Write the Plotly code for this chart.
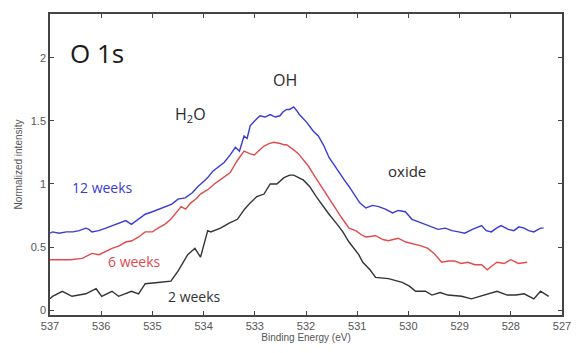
import plotly.graph_objects as go

# 12 weeks (blue)
e12 = [537.0, 536.95, 536.82, 536.68, 536.55, 536.43, 536.3, 536.24, 536.18, 536.05, 535.91, 535.78, 535.65,
       535.52, 535.41, 535.28, 535.14, 535.0, 534.88, 534.75, 534.62, 534.5, 534.36, 534.22, 534.11, 534.0,
       533.92, 533.82, 533.7, 533.6, 533.48, 533.38, 533.3, 533.21, 533.15, 533.09, 533.0, 532.9, 532.8,
       532.7, 532.6, 532.51, 532.45, 532.38, 532.32, 532.24, 532.18, 532.13, 531.99, 531.86, 531.76, 531.66,
       531.55, 531.45, 531.35, 531.25, 531.16, 531.03, 530.95, 530.83, 530.7, 530.58, 530.45, 530.31, 530.2,
       530.06, 529.93, 529.8, 529.68, 529.55, 529.42, 529.28, 529.15, 529.02, 528.9, 528.75, 528.57, 528.48,
       528.38, 528.28, 528.19, 528.05, 527.94, 527.84, 527.74, 527.65, 527.55, 527.42, 527.36]
v12 = [0.61, 0.62, 0.61, 0.62, 0.62, 0.63, 0.65, 0.64, 0.62, 0.63, 0.65, 0.67, 0.69,
       0.71, 0.68, 0.72, 0.76, 0.78, 0.80, 0.82, 0.84, 0.88, 0.89, 0.93, 0.98, 1.02,
       1.05, 1.10, 1.14, 1.17, 1.23, 1.29, 1.26, 1.38, 1.36, 1.46, 1.50, 1.54, 1.53,
       1.55, 1.53, 1.54, 1.57, 1.59, 1.59, 1.61, 1.58, 1.55, 1.49, 1.42, 1.38, 1.31,
       1.21, 1.15, 1.08, 1.03, 0.98, 0.90, 0.85, 0.81, 0.83, 0.82, 0.80, 0.77, 0.79,
       0.78, 0.72, 0.70, 0.68, 0.66, 0.64, 0.65, 0.63, 0.62, 0.61, 0.64, 0.67, 0.63,
       0.62, 0.65, 0.67, 0.64, 0.63, 0.66, 0.65, 0.63, 0.62, 0.65, 0.65]

# 6 weeks (red)
e6 = [537.0, 536.8, 536.6, 536.37, 536.18, 536.04, 535.9, 535.79, 535.65, 535.52, 535.4, 535.27, 535.14,
      535.0, 534.89, 534.76, 534.64, 534.5, 534.44, 534.35, 534.25, 534.15, 534.06, 533.9, 533.79, 533.65,
      533.48, 533.35, 533.21, 533.1, 533.01, 532.9, 532.82, 532.72, 532.63, 532.5, 532.43, 532.38, 532.3,
      532.24, 532.15, 532.05, 531.95, 531.86, 531.75, 531.6, 531.5, 531.41, 531.3, 531.16, 531.03, 530.89,
      530.83, 530.64, 530.5, 530.39, 530.2, 530.05, 529.93, 529.75, 529.62, 529.5, 529.35, 529.22, 529.1,
      528.97, 528.84, 528.7, 528.57, 528.46, 528.37, 528.27, 528.13, 528.0, 527.85, 527.68]
v6 = [0.40, 0.40, 0.40, 0.41, 0.45, 0.44, 0.47, 0.49, 0.51, 0.54, 0.55, 0.58, 0.62,
      0.62, 0.65, 0.68, 0.72, 0.79, 0.82, 0.80, 0.85, 0.88, 0.92, 0.96, 1.00, 1.04,
      1.09, 1.18, 1.26, 1.24, 1.23, 1.27, 1.30, 1.32, 1.33, 1.32, 1.31, 1.31, 1.29,
      1.27, 1.24, 1.19, 1.14, 1.08, 1.01, 0.92, 0.86, 0.80, 0.73, 0.65, 0.63, 0.59,
      0.58, 0.59, 0.56, 0.55, 0.57, 0.54, 0.53, 0.51, 0.49, 0.45, 0.38, 0.39, 0.39,
      0.37, 0.38, 0.36, 0.36, 0.32, 0.35, 0.38, 0.37, 0.40, 0.37, 0.38]

# 2 weeks (black)
e2 = [537.0, 536.95, 536.76, 536.57, 536.3, 536.1, 535.99, 535.79, 535.66, 535.41, 535.27, 535.14, 534.89,
      534.64, 534.5, 534.31, 534.17, 534.06, 533.92, 533.86, 533.67, 533.5, 533.34, 533.2, 533.09, 532.96,
      532.82, 532.7, 532.57, 532.43, 532.32, 532.24, 532.05, 531.93, 531.8, 531.66, 531.55, 531.41, 531.28,
      531.16, 530.97, 530.89, 530.75, 530.64, 530.39, 530.12, 529.98, 529.86, 529.67, 529.54, 529.38, 529.23,
      528.96, 528.77, 528.52, 528.27, 528.07, 527.9, 527.74, 527.55, 527.42, 527.26]
v2 = [0.09, 0.11, 0.15, 0.11, 0.13, 0.17, 0.11, 0.15, 0.11, 0.15, 0.13, 0.21, 0.22,
      0.23, 0.31, 0.44, 0.49, 0.42, 0.63, 0.62, 0.65, 0.69, 0.72, 0.80, 0.85, 0.90,
      0.92, 1.00, 1.00, 1.05, 1.07, 1.07, 1.03, 0.98, 0.90, 0.82, 0.76, 0.69, 0.62,
      0.54, 0.44, 0.38, 0.32, 0.26, 0.25, 0.22, 0.19, 0.15, 0.15, 0.12, 0.14, 0.12,
      0.11, 0.09, 0.12, 0.15, 0.12, 0.12, 0.13, 0.09, 0.15, 0.11]

blue = "#3b3bd6"
red = "#e24a4d"
black = "#333333"

fig = go.Figure()
fig.add_trace(go.Scatter(x=e12, y=v12, mode="lines", line=dict(color=blue, width=1.4), name="12 weeks"))
fig.add_trace(go.Scatter(x=e6, y=v6, mode="lines", line=dict(color=red, width=1.4), name="6 weeks"))
fig.add_trace(go.Scatter(x=e2, y=v2, mode="lines", line=dict(color=black, width=1.4), name="2 weeks"))

ann_font = "Open Sans, Lato, sans-serif"
anns = [
    dict(x=536.08, y=2.04, text="O 1s", font=dict(size=26, color="#1a1a1a", family=ann_font)),
    dict(x=534.25, y=1.55, text="H<sub>2</sub>O", font=dict(size=16, color="#2a2a2a", family=ann_font)),
    dict(x=532.41, y=1.82, text="OH", font=dict(size=16, color="#2a2a2a", family=ann_font)),
    dict(x=530.02, y=1.10, text="oxide", font=dict(size=15, color="#2a2a2a", family=ann_font)),
    dict(x=535.98, y=0.97, text="12 weeks", font=dict(size=14, color=blue, family=ann_font)),
    dict(x=535.35, y=0.385, text="6 weeks", font=dict(size=14, color=red, family=ann_font)),
    dict(x=534.17, y=0.11, text="2 weeks", font=dict(size=14, color=black, family=ann_font)),
]
for a in anns:
    a.update(xref="x", yref="y", showarrow=False, xanchor="center", yanchor="middle")

axis_common = dict(showline=True, linecolor="#444", linewidth=1.5, mirror="ticks", ticks="inside",
                   ticklen=4, tickcolor="#444", showgrid=False, zeroline=False,
                   tickfont=dict(family="Liberation Sans, Arial, sans-serif", size=11, color="#555"))

fig.update_layout(
    width=583, height=353,
    margin=dict(l=50, r=14, t=12, b=31),
    paper_bgcolor="white", plot_bgcolor="white",
    showlegend=False,
    annotations=anns,
    xaxis=dict(range=[537, 527], tickvals=[537, 536, 535, 534, 533, 532, 531, 530, 529, 528, 527],
               title=dict(text="Binding Energy (eV)", standoff=2,
                          font=dict(family="Liberation Sans, Arial, sans-serif", size=10, color="#555")),
               **axis_common),
    yaxis=dict(range=[-0.038, 2.346], tickvals=[0, 0.5, 1, 1.5, 2], ticktext=["0", "0.5", "1", "1.5", "2"],
               title=dict(text="Normalized intensity", standoff=6,
                          font=dict(family="Liberation Sans, Arial, sans-serif", size=10, color="#555")),
               **axis_common),
)

fig.write_html("out.html")
